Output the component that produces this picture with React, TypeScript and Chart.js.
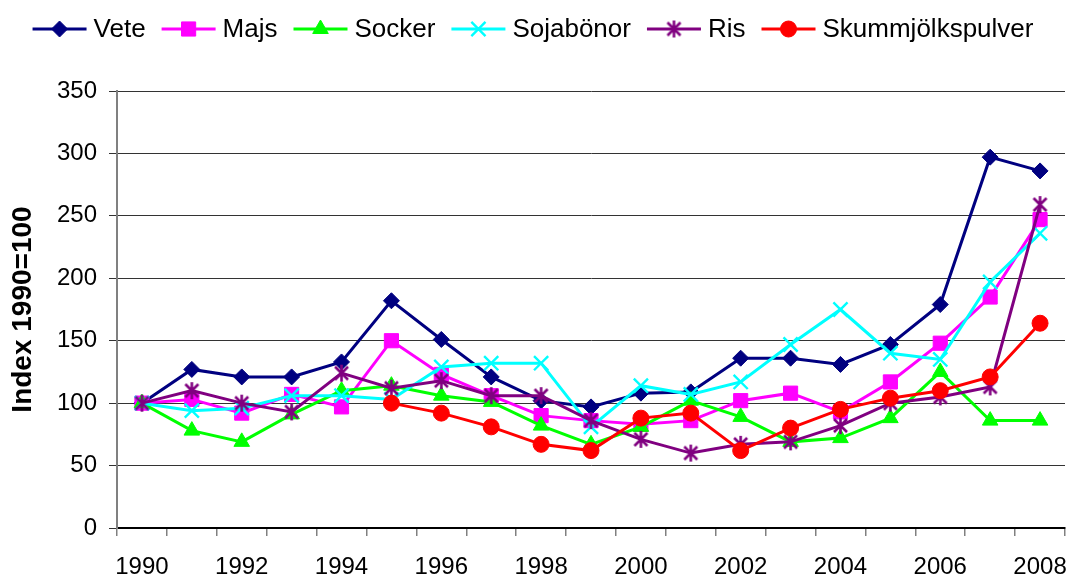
import React, { useEffect, useRef } from "react";
import { Chart, registerables } from "chart.js";

Chart.register(...registerables);

const years = ["1990","1991","1992","1993","1994","1995","1996","1997","1998","1999","2000","2001","2002","2003","2004","2005","2006","2007","2008"];
const vete = [100,127,121,121,133,182,151,121,102,97,108,109,136,136,131,147,179,297,286];
const majs = [100,103,92,107,97,150,123,106,90,86,83,86,102,108,93,117,148,185,247];
const socker = [100,78,69,91,110,114,106,101,82,67,81,102,89,69,72,88,125,86,86];
const sojabonor = [100,94,96,106,106,103,129,132,132,81,114,107,117,147,175,140,135,197,236];
const ris = [100,110,100,93,124,112,118,106,106,86,71,60,67,69,82,100,105,113,259];
const skumm = [null,null,null,null,null,100,92,81,67,62,88,92,62,80,95,104,110,121,164];
const yTicks = [0,50,100,150,200,250,300,350];

const FONT = 'Arial, "Liberation Sans", Helvetica, sans-serif';

function makeStar(color: string): HTMLCanvasElement {
  const c = document.createElement("canvas");
  c.width = 19; c.height = 19;
  const g = c.getContext("2d")!;
  g.strokeStyle = color; g.lineWidth = 2.6;
  g.beginPath();
  g.moveTo(9.5, 1); g.lineTo(9.5, 18);
  g.moveTo(3, 3); g.lineTo(16, 16);
  g.moveTo(16, 3); g.lineTo(3, 16);
  g.stroke();
  return c;
}

function drawMarker(ctx: CanvasRenderingContext2D, ds: any, x: number, y: number) {
  const style = ds.pointStyle;
  const r = ds.pointRadius;
  const col = ds.pointBackgroundColor;
  ctx.save();
  ctx.fillStyle = col; ctx.strokeStyle = ds.pointBorderColor; ctx.lineWidth = ds.pointBorderWidth;
  if (typeof style !== "string") {
    ctx.drawImage(style, x - style.width / 2, y - style.height / 2);
  } else if (style === "rectRot") {
    ctx.beginPath(); ctx.moveTo(x, y - r); ctx.lineTo(x + r, y); ctx.lineTo(x, y + r); ctx.lineTo(x - r, y); ctx.closePath(); ctx.fill(); ctx.stroke();
  } else if (style === "rect") {
    const s = r * Math.SQRT1_2; ctx.beginPath(); ctx.rect(x - s, y - s, 2 * s, 2 * s); ctx.fill(); ctx.stroke();
  } else if (style === "triangle") {
    ctx.beginPath(); ctx.moveTo(x, y - r); ctx.lineTo(x + r * 0.866, y + r * 0.5); ctx.lineTo(x - r * 0.866, y + r * 0.5); ctx.closePath(); ctx.fill(); ctx.stroke();
  } else if (style === "crossRot") {
    const s = r * Math.SQRT1_2; ctx.beginPath(); ctx.moveTo(x - s, y - s); ctx.lineTo(x + s, y + s); ctx.moveTo(x + s, y - s); ctx.lineTo(x - s, y + s); ctx.stroke();
  } else {
    ctx.beginPath(); ctx.arc(x, y, r, 0, Math.PI * 2); ctx.fill(); ctx.stroke();
  }
  ctx.restore();
}

const legendPlugin = {
  id: "customLegend",
  afterDraw(chart: any) {
    const ctx: CanvasRenderingContext2D = chart.ctx;
    const dss = chart.data.datasets;
    ctx.save();
    ctx.font = `26px ${FONT}`;
    const lineLen = 54, gapText = 7, gapItem = 16;
    const widths = dss.map((d: any) => ctx.measureText(d.label).width);
    const total = widths.reduce((a: number, b: number) => a + b, 0) + dss.length * (lineLen + gapText) + (dss.length - 1) * gapItem;
    let x = (chart.width - total) / 2 - 2;
    const y = 29;
    dss.forEach((d: any, i: number) => {
      ctx.strokeStyle = d.borderColor; ctx.lineWidth = 3;
      ctx.beginPath(); ctx.moveTo(x, y); ctx.lineTo(x + lineLen, y); ctx.stroke();
      drawMarker(ctx, d, x + lineLen / 2, y);
      ctx.fillStyle = "#000"; ctx.textBaseline = "middle"; ctx.textAlign = "left";
      ctx.fillText(d.label, x + lineLen + gapText, y + 1);
      x += lineLen + gapText + widths[i] + gapItem;
    });
    ctx.restore();
  },
};

export default function App() {
  const ref = useRef<HTMLCanvasElement>(null);
  useEffect(() => {
    if (!ref.current) return;
    Chart.defaults.font.family = FONT;
    const star = makeStar("#800080");
    const mk = (label: string, data: any[], color: string, pointStyle: any, r: number, order: number, bw = 1) => ({
      label, data, borderColor: color, backgroundColor: color,
      pointBackgroundColor: color, pointBorderColor: color, pointBorderWidth: bw,
      pointStyle, pointRadius: r, pointHoverRadius: r, borderWidth: 3, order, tension: 0, spanGaps: false,
    });
    const chart = new Chart(ref.current, {
      type: "line",
      data: {
        labels: years,
        datasets: [
          mk("Vete", vete, "#000080", "rectRot", 8, 5),
          mk("Majs", majs, "#FF00FF", "rect", 10, 4),
          mk("Socker", socker, "#00FF00", "triangle", 9, 3),
          mk("Sojabönor", sojabonor, "#00FFFF", "crossRot", 10, 2, 2.4),
          mk("Ris", ris, "#800080", star, 8, 1),
          mk("Skummjölkspulver", skumm, "#FF0000", "circle", 8, 0),
        ],
      },
      options: {
        animation: false,
        responsive: false,
        layout: { autoPadding: false, padding: { top: 91, right: 5, left: 0, bottom: 0 } },
        plugins: { legend: { display: false }, tooltip: { enabled: false } },
        scales: {
          x: {
            type: "category",
            offset: true,
            grid: { offset: true, drawOnChartArea: false, drawTicks: true, tickLength: 8, color: "#808080", lineWidth: 1.5 },
            border: { color: "#000", width: 2 },
            ticks: {
              autoSkip: false, maxRotation: 0, minRotation: 0, padding: 17, color: "#000",
              font: { size: 24 },
              callback: (_v: any, i: number) => (Number(years[i]) % 2 === 0 ? years[i] : ""),
            },
            afterFit: (s: any) => { s.height = 48; s.paddingLeft = 0; s.paddingRight = 0; },
          },
          y: {
            min: 0, max: 350,
            afterBuildTicks: (s: any) => { s.ticks = yTicks.map((v) => ({ value: v })); },
            grid: { color: "#333", lineWidth: 1, drawTicks: true, tickLength: 8 },
            border: { color: "#808080", width: 2 },
            ticks: { padding: 12, color: "#000", font: { size: 24 } },
            title: { display: true, text: "Index 1990=100", color: "#000", font: { size: 28, weight: "bold" }, padding: { top: 6, bottom: 0 } },
            afterFit: (s: any) => { s.width = 117; },
          },
        },
      },
      plugins: [legendPlugin],
    } as any);
    return () => chart.destroy();
  }, []);
  return (
    <div style={{ position: "absolute", left: 0, top: 0, width: 1070, height: 576 }}>
      <canvas ref={ref} width={1070} height={576} style={{ display: "block" }} />
    </div>
  );
}
